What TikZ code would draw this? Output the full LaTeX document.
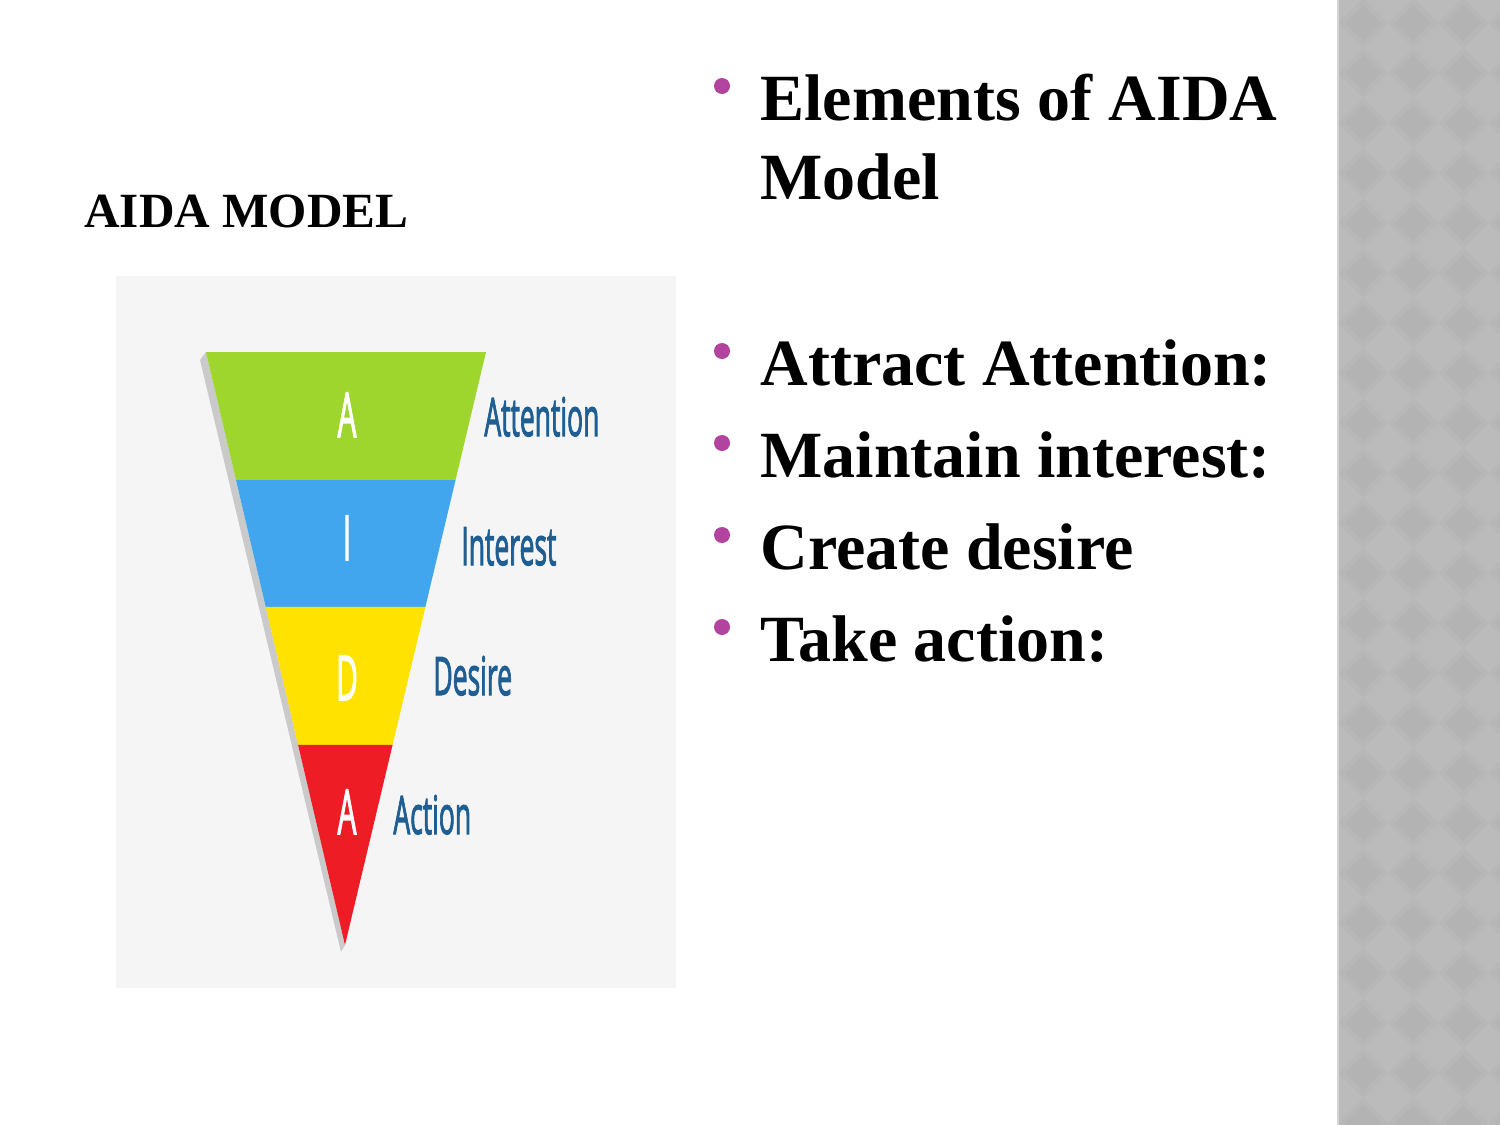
\documentclass[tikz,border=0pt]{standalone}
\usepackage{fontspec}
\setmainfont{Liberation Serif}
\newfontfamily\funfontm[FakeBold=2.5]{Open Sans}
\usetikzlibrary{calc}
\definecolor{stripbase}{HTML}{BBBBBB}
\definecolor{stripmid}{HTML}{B7B7B7}
\definecolor{stripdark}{HTML}{B3B3B3}
\definecolor{stripline}{HTML}{D4D4D4}
\definecolor{panel}{HTML}{F5F5F5}
\definecolor{shadowgray}{HTML}{CACACA}
\definecolor{agreen}{HTML}{9ED62E}
\definecolor{iblue}{HTML}{41A6EE}
\definecolor{dyellow}{HTML}{FFE200}
\definecolor{ared}{HTML}{EE1C25}
\definecolor{lblue}{HTML}{1E5E93}
\definecolor{bullet}{HTML}{B244A0}
\tikzset{
  letter/.style={text=white, inner sep=0pt, anchor=base, font=\funfontm\fontsize{31}{31}\selectfont},
  flabel/.style={text=lblue, inner sep=0pt, anchor=base west, font=\funfontm\fontsize{26.5}{26.5}\selectfont},
  dotb/.style={circle, fill=bullet, inner sep=0pt, minimum size=8pt},
  btext/.style={inner sep=0pt, anchor=base west, font=\bfseries\fontsize{33}{33}\selectfont},
}
\begin{document}
\begin{tikzpicture}[x=0.5pt,y=-0.5pt]
\useasboundingbox (0,0) rectangle (1500,1125);
\fill[white] (0,0) rectangle (1500,1125);
% right decorative strip
\fill[stripbase] (1337,0) rectangle (1500,1125);
\begin{scope}
\clip (1339,0) rectangle (1500,1125);
\foreach \i in {0,...,3} \foreach \j in {0,...,23} {
  \fill[stripmid] (1363+50*\i,23+50*\j) +(0,-25) -- +(25,0) -- +(0,25) -- +(-25,0) -- cycle;
  \fill[stripdark] (1363+50*\i,23+50*\j) +(0,-18) -- +(18,0) -- +(0,18) -- +(-18,0) -- cycle;
}
\end{scope}
\draw[stripline, line width=1pt] (1338,0) -- (1338,1125);
% picture panel
\fill[panel] (116,276) rectangle (676,988);
% funnel
\coordinate (tl) at (206,352);
\coordinate (tr) at (486,352);
\coordinate (tip) at (345,945);
\fill[shadowgray] (200,360) -- (tl) -- (tip) -- (341,952) -- cycle;
\coordinate (l1) at ($(tl)!0.2159!(tip)$);
\coordinate (r1) at ($(tr)!0.2159!(tip)$);
\coordinate (l2) at ($(tl)!0.4300!(tip)$);
\coordinate (r2) at ($(tr)!0.4300!(tip)$);
\coordinate (l3) at ($(tl)!0.6627!(tip)$);
\coordinate (r3) at ($(tr)!0.6627!(tip)$);
\fill[agreen] (tl) -- (tr) -- (r1) -- (l1) -- cycle;
\fill[iblue] (l1) -- (r1) -- (r2) -- (l2) -- cycle;
\fill[dyellow] (l2) -- (r2) -- (r3) -- (l3) -- cycle;
\fill[ared] (l3) -- (r3) -- (tip) -- cycle;
% letters
\node[letter] (la1) at (347,437) {\scalebox{0.48}[1]{A}};
\node[letter] (li) at (347,560) {\scalebox{0.48}[1]{I}};
\node[letter] (ld) at (347,700) {\scalebox{0.48}[1]{D}};
\node[letter] (la2) at (347,834) {\scalebox{0.48}[1]{A}};
% labels
\node[flabel] (att) at (484,436) {\scalebox{0.5}[1]{Attention}};
\node[flabel] (int) at (461,565) {\scalebox{0.5}[1]{Interest}};
\node[flabel] (des) at (433,695) {\scalebox{0.5}[1]{Desire}};
\node[flabel] (act) at (393,834) {\scalebox{0.5}[1]{Action}};
% title
\node[inner sep=0pt, anchor=base west, font=\bfseries\fontsize{24.6}{24.6}\selectfont] (title) at (84,227) {AIDA MODEL};
% bullets
\node[dotb] (b0) at (722,86) {};
\node[btext] (t0a) at (760,120) {Elements of AIDA};
\node[btext] (t0b) at (760,199) {Model};
\node[dotb] (b1) at (722,351) {};
\node[btext] (t1) at (760,385) {Attract Attention:};
\node[dotb] (b2) at (722,443) {};
\node[btext] (t2) at (760,477) {Maintain interest:};
\node[dotb] (b3) at (722,535) {};
\node[btext] (t3) at (760,569) {Create desire};
\node[dotb] (b4) at (722,627) {};
\node[btext] (t4) at (760,661) {Take action:};
\end{tikzpicture}
\end{document}
